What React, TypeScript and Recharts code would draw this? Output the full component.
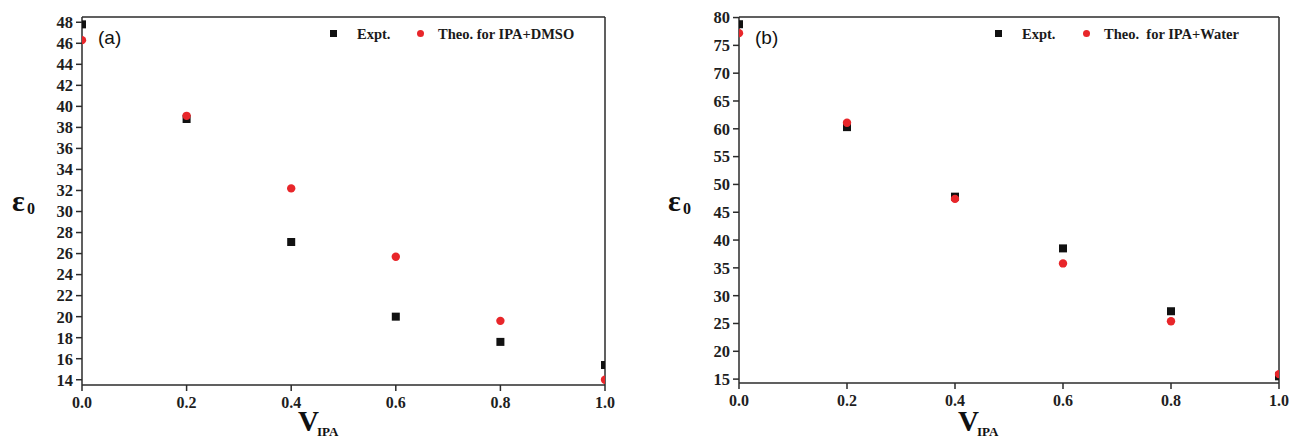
import React from "react";
import { ScatterChart, Scatter, XAxis, YAxis, ReferenceLine } from "recharts";

const vIPA = [0, 0.2, 0.4, 0.6, 0.8, 1.0];
const exptA = [47.8, 38.8, 27.1, 20.0, 17.6, 15.4];
const theoA = [46.3, 39.1, 32.2, 25.7, 19.6, 14.0];
const exptB = [78.8, 60.3, 47.8, 38.5, 27.2, 15.5];
const theoB = [77.2, 61.1, 47.4, 35.8, 25.4, 15.9];

const xTicks = [0, 0.2, 0.4, 0.6, 0.8, 1.0];
const yTicksA = [14, 16, 18, 20, 22, 24, 26, 28, 30, 32, 34, 36, 38, 40, 42, 44, 46, 48];
const yTicksB = [15, 20, 25, 30, 35, 40, 45, 50, 55, 60, 65, 70, 75, 80];

const legendA = ["Expt.", "Theo. for IPA+DMSO"];
const legendB = ["Expt.", "Theo.  for IPA+Water"];

const toPoints = (ys: number[]) => vIPA.map((x, i) => ({ x, y: ys[i] }));

const SERIF = "Liberation Serif";
const AXIS = "#2b2b2b";
const RED = "#e8262a";

const Square = (props: any) => {
  const { cx, cy } = props;
  return <rect x={cx - 4} y={cy - 4} width={8} height={8} fill="#111" />;
};
const Dot = (props: any) => {
  const { cx, cy } = props;
  return <circle cx={cx} cy={cy} r={4.2} fill={RED} />;
};

function Panel(props: {
  width: number;
  yWidth: number;
  right: number;
  bottom: number;
  domain: [number, number];
  yTicks: number[];
  expt: number[];
  theo: number[];
}) {
  const { width, yWidth, right, bottom, domain, yTicks, expt, theo } = props;
  return (
    <ScatterChart
      width={width}
      height={440}
      margin={{ top: 17, right, bottom, left: 0 }}
      style={{ fontFamily: SERIF, fontWeight: 700 }}
    >
      <XAxis
        type="number"
        dataKey="x"
        domain={[0, 1]}
        ticks={xTicks}
        tickFormatter={(v: number) => v.toFixed(1)}
        allowDataOverflow
        height={30}
        tickSize={6}
        tickMargin={6}
        axisLine={{ stroke: AXIS, strokeWidth: 1.5 }}
        tickLine={{ stroke: AXIS, strokeWidth: 1.5 }}
        tick={{ fill: "#1e1e1e", fontSize: 16, fontFamily: SERIF, fontWeight: 700 }}
        interval={0}
      />
      <YAxis
        type="number"
        dataKey="y"
        domain={domain}
        ticks={yTicks}
        allowDataOverflow
        width={yWidth}
        tickSize={6}
        tickMargin={3}
        axisLine={{ stroke: AXIS, strokeWidth: 1.5 }}
        tickLine={{ stroke: AXIS, strokeWidth: 1.5 }}
        tick={{ fill: "#1e1e1e", fontSize: 16.5, fontFamily: SERIF, fontWeight: 700 }}
        interval={0}
      />
      <ReferenceLine y={domain[1]} stroke={AXIS} strokeWidth={1.5} />
      <ReferenceLine x={1} stroke={AXIS} strokeWidth={1.5} />
      <Scatter data={toPoints(expt)} shape={Square} isAnimationActive={false} />
      <Scatter data={toPoints(theo)} shape={Dot} isAnimationActive={false} />
    </ScatterChart>
  );
}

const abs = (left: number, top: number, extra: React.CSSProperties = {}): React.CSSProperties => ({
  position: "absolute",
  left,
  top,
  whiteSpace: "pre",
  lineHeight: 1,
  ...extra,
});

function Legend(props: { left: number; labels: string[]; gap2: number; textGap: number }) {
  const { left, labels, gap2, textGap } = props;
  const font: React.CSSProperties = { fontFamily: SERIF, fontWeight: 700, fontSize: 14.5, color: "#1a1a1a" };
  return (
    <>
      <div style={abs(left, 30, { width: 7, height: 7, background: "#111" })} />
      <div style={abs(left + textGap, 27, font)}>{labels[0]}</div>
      <div style={abs(left + gap2, 30, { width: 7, height: 7, borderRadius: 4, background: RED })} />
      <div style={abs(left + gap2 + textGap - 6, 27, font)}>{labels[1]}</div>
    </>
  );
}

function AxisLabels(props: { epsLeft: number; vLeft: number; tag: string; tagLeft: number }) {
  const { epsLeft, vLeft, tag, tagLeft } = props;
  return (
    <>
      <div style={abs(epsLeft, 186, { fontFamily: SERIF, fontWeight: 700, fontSize: 30, color: "#111" })}>ε</div>
      <div style={abs(epsLeft + 15, 201, { fontFamily: SERIF, fontWeight: 700, fontSize: 16, color: "#111" })}>0</div>
      <div style={abs(vLeft, 407, { fontFamily: SERIF, fontWeight: 700, fontSize: 29, color: "#111" })}>V</div>
      <div style={abs(vLeft + 19, 425, { fontFamily: SERIF, fontWeight: 700, fontSize: 13, color: "#111" })}>IPA</div>
      <div style={abs(tagLeft, 28, { fontFamily: "Liberation Sans", fontSize: 19, color: "#111" })}>{tag}</div>
    </>
  );
}

export default function App() {
  return (
    <div style={{ position: "absolute", left: 0, top: 0, width: 1289, height: 440, background: "#fff", overflow: "hidden" }}>
      <div style={abs(0, 0)}>
        <Panel
          width={640}
          yWidth={82}
          right={35}
          bottom={25}
          domain={[13.5, 48.5]}
          yTicks={yTicksA}
          expt={exptA}
          theo={theoA}
        />
      </div>
      <div style={abs(640, 0)}>
        <Panel
          width={649}
          yWidth={99}
          right={10}
          bottom={27}
          domain={[14.3, 80.1]}
          yTicks={yTicksB}
          expt={exptB}
          theo={theoB}
        />
      </div>
      <Legend left={330} labels={legendA} gap2={87} textGap={27} />
      <Legend left={995} labels={legendB} gap2={88} textGap={27} />
      <AxisLabels epsLeft={12} vLeft={298} tag="(a)" tagLeft={98} />
      <AxisLabels epsLeft={668} vLeft={958} tag="(b)" tagLeft={755} />
    </div>
  );
}
